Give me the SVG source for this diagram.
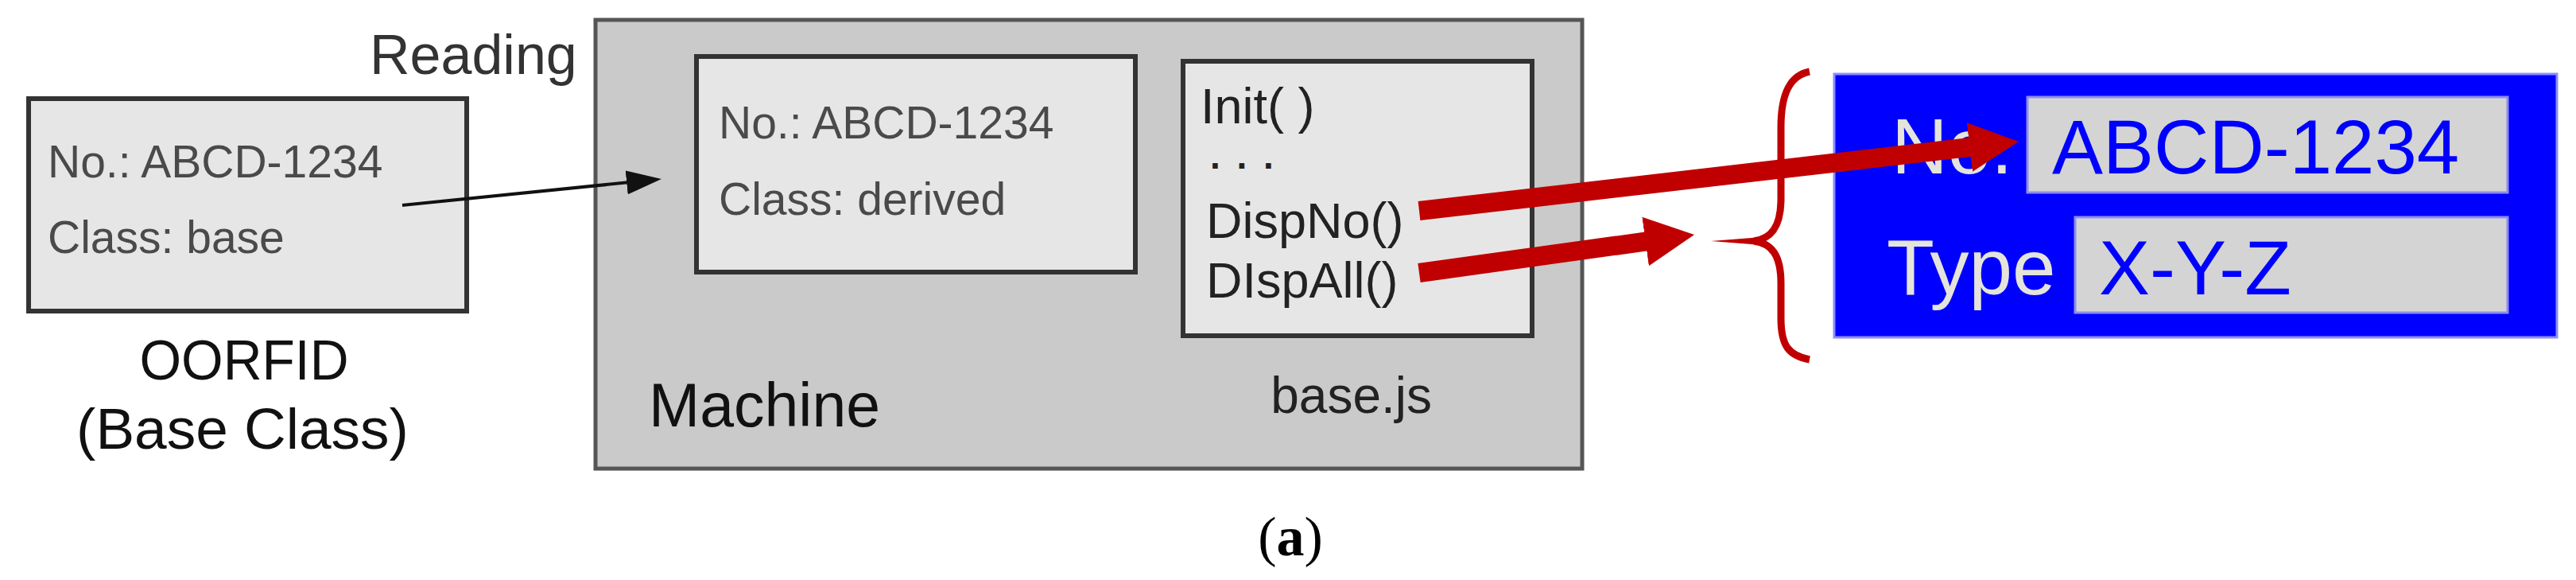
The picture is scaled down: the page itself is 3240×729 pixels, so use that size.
<svg xmlns="http://www.w3.org/2000/svg" width="3240" height="729" viewBox="0 0 3240 729">
<style>
.t{font-family:"Liberation Sans",Arial,sans-serif}
.inner{fill:#e6e6e6;stroke:#333;stroke-width:6}
.small{font-size:57px;fill:#4a4a4a}
.meth{font-size:63px;fill:#222}
.big{fill:#111}
.field{fill:#d4d4d4;stroke:#8c8cee;stroke-width:3}
.blue{font-size:96px;fill:#0000ff}
.lbl{font-size:98px;fill:#e4e4dc}
</style>
<defs>
<marker id="ah" markerUnits="userSpaceOnUse" markerWidth="44" markerHeight="30" refX="34" refY="15" orient="auto" viewBox="0 0 44 30"><path d="M0,0 L44,15 L0,30 z" fill="#111"/></marker>
<marker id="rh" markerUnits="userSpaceOnUse" markerWidth="62" markerHeight="62" refX="12" refY="31" orient="auto" viewBox="0 0 62 62"><path d="M0,0 L62,31 L0,62 z" fill="#c00000"/></marker>
</defs>
<rect width="3240" height="729" fill="#fff"/>

<g id="reading-label"><text class="t" x="465" y="93" font-size="70" fill="#333">Reading</text></g>

<g id="oorfid">
<rect x="36" y="124" width="551" height="267" class="inner" stroke="#3a3a3a"/>
<text class="t small" x="60" y="223">No.: ABCD-1234</text>
<text class="t small" x="60" y="318">Class: base</text>
<text class="t big" x="307" y="477" text-anchor="middle" font-size="71" textLength="263" lengthAdjust="spacingAndGlyphs">OORFID</text>
<text class="t big" x="305" y="564" text-anchor="middle" font-size="73">(Base Class)</text>
</g>

<g id="machine">
<rect x="749" y="25" width="1241" height="564" fill="#c9cac9" stroke="#555" stroke-width="5"/>
<text class="t big" x="816" y="536" font-size="77">Machine</text>
</g>

<g id="derived">
<rect x="876" y="71" width="552" height="271" class="inner"/>
<text class="t small" x="904" y="174">No.: ABCD-1234</text>
<text class="t small" x="904" y="270">Class: derived</text>
</g>

<g id="basejs">
<rect x="1488" y="77" width="439" height="345" class="inner"/>
<text class="t meth" x="1510" y="155">Init( )</text>
<text class="t" x="1522" y="212" font-size="46" font-weight="bold" letter-spacing="4" fill="#222">. . .</text>
<text class="t meth" x="1517" y="299">DispNo()</text>
<text class="t meth" x="1517" y="374">DIspAll()</text>
<text class="t" x="1801" y="519" font-size="64" fill="#222" text-anchor="end">base.js</text>
</g>

<g id="display">
<rect x="2307" y="93" width="909" height="331" fill="#0000ff" stroke="#8c8cff" stroke-width="3"/>
<rect x="2550" y="122" width="604" height="120" class="field"/>
<rect x="2610" y="273" width="544" height="120" class="field"/>
<text class="t lbl" x="2379" y="218">No.</text>
<text class="t lbl" x="2373" y="370">Type</text>
<text class="t blue" x="2581" y="218">ABCD-1234</text>
<text class="t blue" x="2640" y="370">X-Y-Z</text>
</g>

<g id="brace">
<path d="M2276,90 C2250,95 2240,120 2240,160 L2240,250 C2240,285 2228,300 2206,303 C2228,306 2240,320 2240,356 L2240,400 C2240,435 2250,447 2276,452" fill="none" stroke="#c00000" stroke-width="9"/>
<path d="M2216,298 L2152,303 L2216,308 z" fill="#c00000"/>
</g>

<g id="connectors">
<line x1="506" y1="258" x2="822" y2="226" stroke="#111" stroke-width="4" marker-end="url(#ah)"/>
<line x1="1785" y1="265" x2="2489.3" y2="183.7" stroke="#c00000" stroke-width="24" marker-end="url(#rh)"/>
<line x1="1785" y1="343" x2="2081.5" y2="301.9" stroke="#c00000" stroke-width="24" marker-end="url(#rh)"/>
</g>

<g id="caption"><text x="1623" y="698" font-family="'Liberation Serif',serif" font-size="70" text-anchor="middle" fill="#000">(<tspan font-weight="bold">a</tspan>)</text></g>
</svg>
